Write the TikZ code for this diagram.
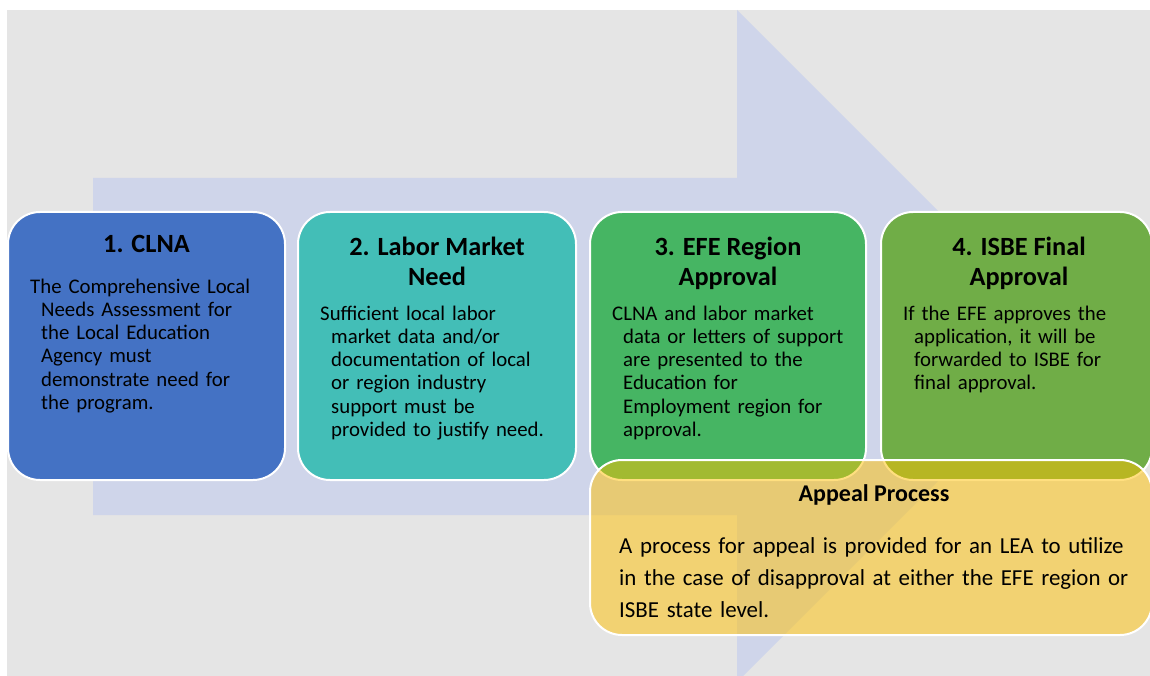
\documentclass[tikz,border=0pt]{standalone}
\usepackage{fontspec}
\setmainfont{Carlito}
\usepackage{tikz}

\definecolor{panel}{HTML}{E5E5E5}
\definecolor{flow}{HTML}{CFD5EA}
\definecolor{clnablue}{HTML}{4472C4}
\definecolor{laborteal}{HTML}{43BEB7}
\definecolor{efegreen}{HTML}{46B563}
\definecolor{isbegreen}{HTML}{70AD47}
\definecolor{appealgold}{HTML}{FFC000}

\begin{document}
\begin{tikzpicture}[x=1pt, y=-1pt,
    stepbox/.style={draw=white, line width=2pt, rounded corners=32pt,
                    minimum height=268pt, inner sep=0pt},
    steptitle/.style={font=\fontsize{26.3}{30}\selectfont\bfseries, align=center, inner sep=0pt},
    stepbody/.style={font=\fontsize{20.8}{23.3}\selectfont, text width=262pt, align=left, inner sep=0pt}]
  \useasboundingbox (0,0) rectangle (1150,676);
  \clip (0,0) rectangle (1150,676);

  % background and the big arrow
  \fill[panel] (7,10) rectangle (1150,676);
  \fill[flow] (93,178) -- (737,178) -- (737,10) -- (1073,346) -- (737,682)
              -- (737,515) -- (93,515) -- cycle;

  % the four steps
  \node[stepbox, fill=clnablue, minimum width=277pt] (clna) at (146.5,346) {};
  \node[stepbox, fill=laborteal, minimum width=278pt] (labor) at (437,346) {};
  \node[stepbox, fill=efegreen, minimum width=276pt] (efe) at (728,346) {};
  \node[stepbox, fill=isbegreen, minimum width=271pt] (isbe) at (1016.5,346) {};

  \node[steptitle, anchor=base] (clna-title) at (146.5,253) {1. CLNA};
  \node[steptitle, anchor=base] (labor-title) at (437,285) {2. Labor Market\\Need};
  \node[steptitle, anchor=base] (efe-title) at (728,285) {3. EFE Region\\Approval};
  \node[steptitle, anchor=base] (isbe-title) at (1019,285) {4. ISBE Final\\Approval};

  \node[stepbody, anchor=base west] (clna-body) at (30,293)
    {\leavevmode\hangindent=11pt\hangafter=1 The Comprehensive Local\break Needs Assessment for\break
     the Local Education\break Agency must\break demonstrate need for\break the program.\par};
  \node[stepbody, anchor=base west] (labor-body) at (320,320)
    {\leavevmode\hangindent=11pt\hangafter=1 Sufficient local labor\break market data and/or\break
     documentation of local\break or region industry\break support must be\break
     provided to justify need.\par};
  \node[stepbody, anchor=base west] (efe-body) at (612,320)
    {\leavevmode\hangindent=11pt\hangafter=1 CLNA and labor market\break data or letters of support\break
     are presented to the\break Education for\break Employment region for\break approval.\par};
  \node[stepbody, anchor=base west] (isbe-body) at (903,320)
    {\leavevmode\hangindent=11pt\hangafter=1 If the EFE approves the\break application, it will be\break
     forwarded to ISBE for\break final approval.\par};

  % appeal, laid over steps 3 and 4
  \node[draw=white, line width=2pt, fill=appealgold, fill opacity=0.5, rounded corners=32pt,
        minimum width=562pt, minimum height=175pt, inner sep=0pt] (appeal) at (871,547.5) {};
  \node[font=\fontsize{24}{28}\selectfont\bfseries, anchor=base, inner sep=0pt]
    (appeal-title) at (874,501) {Appeal Process};
  \node[font=\fontsize{22.9}{32}\selectfont, text width=525pt, align=left, inner sep=0pt,
        anchor=base west] (appeal-body) at (619,553)
    {A process for appeal is provided for an LEA to utilize\break
     in the case of disapproval at either the EFE region or\break ISBE state level.};
\end{tikzpicture}
\end{document}
